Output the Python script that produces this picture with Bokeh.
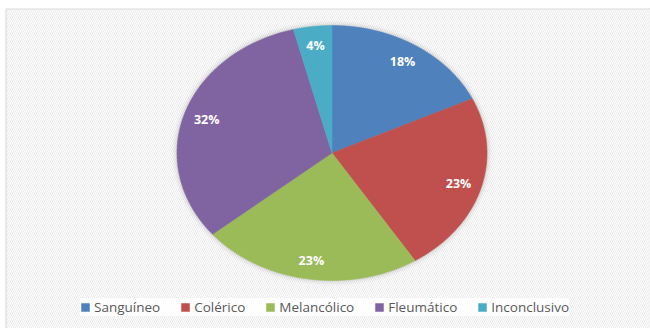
import numpy as np
from bokeh.plotting import figure
from bokeh.models import ColumnDataSource, Legend, LegendItem, Range1d
from bokeh.core.properties import value
from bokeh.embed import file_html
from bokeh.resources import INLINE

categories = ["Sanguíneo", "Colérico", "Melancólico", "Fleumático", "Inconclusivo"]
values = [18, 23, 23, 32, 4]
colors = ["#4F81BD", "#C0504D", "#9BBB59", "#8064A2", "#4BACC6"]

W, H = 650, 328
cx, cy, rx, ry = 331.5, 152.5, 155.0, 127.5
label_r = 0.85

p = figure(width=W, height=H, x_range=Range1d(0, W), y_range=Range1d(H, 0),
           output_backend="svg", toolbar_location=None, min_border=0)
p.axis.visible = False
p.grid.visible = False
p.outline_line_color = None
p.background_fill_color = "white"
p.border_fill_color = "white"

# chart area with faint diagonal hatching
p.quad(left=[5.5], right=[W + 10], top=[8.5], bottom=[H + 10],
       fill_color="white", line_color="#d9d9d9", line_width=1,
       hatch_pattern="\\", hatch_color="#e9e9e9", hatch_scale=4, hatch_weight=1)

# soft shadow around pie
for d, a in [(10, 0.04), (7, 0.06), (4, 0.08), (2, 0.10)]:
    p.ellipse(x=[cx], y=[cy], width=[2 * rx + d], height=[2 * ry + d],
              fill_color="#808080", fill_alpha=a, line_color=None)

total = float(sum(values))
bounds = np.concatenate([[0], np.cumsum(values)]) / total * 2 * np.pi
xs, ys, lx, ly, texts = [], [], [], [], []
for i, v in enumerate(values):
    t = np.linspace(bounds[i], bounds[i + 1], 120)
    xs.append([cx] + list(cx + rx * np.sin(t)) + [cx])
    ys.append([cy] + list(cy - ry * np.cos(t)) + [cy])
    m = 0.5 * (bounds[i] + bounds[i + 1])
    lx.append(cx + label_r * rx * np.sin(m))
    ly.append(cy - label_r * ry * np.cos(m))
    texts.append(f"{round(v / total * 100)}%")

renderers = []
for i in range(len(values)):
    r = p.patch(x=xs[i], y=ys[i], fill_color=colors[i], line_color=colors[i], line_width=0.5)
    renderers.append(r)

p.text(x=lx, y=ly, text=texts, text_color="white", text_align="center",
       text_baseline="middle", text_font=value("Open Sans"),
       text_font_style="bold", text_font_size="12.5px")

legend = Legend(items=[LegendItem(label=c, renderers=[r]) for c, r in zip(categories, renderers)],
                orientation="horizontal", location=(80, 12),
                label_text_font="Open Sans", label_text_font_size="13.5px",
                label_text_color="#595959", glyph_width=10, glyph_height=10,
                label_standoff=4, spacing=20, padding=7, margin=0,
                background_fill_color="white", background_fill_alpha=0.9,
                border_line_color=None, label_height=12)
p.add_layout(legend, "center")

open("out.html", "w").write(file_html(p, INLINE))
